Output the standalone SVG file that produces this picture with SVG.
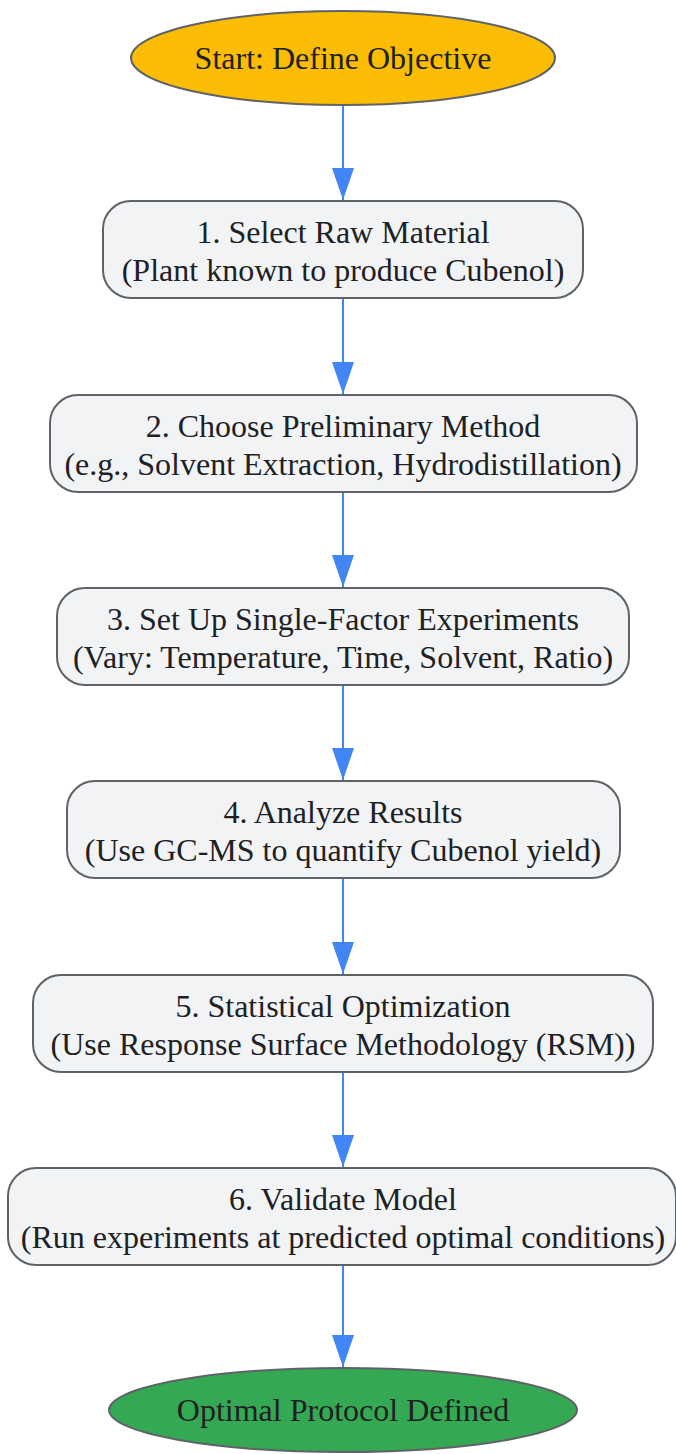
<svg xmlns="http://www.w3.org/2000/svg" width="676" height="1454" viewBox="0 0 676 1454">
<style>
.n{fill:#f1f3f4;stroke:#5f6368;stroke-width:2}
.t{font-family:"Liberation Serif","Times New Roman",serif;font-size:32px;fill:#202124;text-anchor:middle}
.e{stroke:#4285f4;stroke-width:2;fill:none}
</style>
<defs>
<marker id="a" markerWidth="32" markerHeight="22" refX="32" refY="11" orient="auto" markerUnits="userSpaceOnUse" viewBox="0 0 32 22">
<path d="M0,0 L32,11 L0,22 Z" fill="#4285f4"/>
</marker>
</defs>
<rect width="676" height="1454" fill="#ffffff"/>
<g id="edges">
<path class="e" d="M343,105 V200" marker-end="url(#a)"/>
<path class="e" d="M343,299 V394" marker-end="url(#a)"/>
<path class="e" d="M343,493 V587" marker-end="url(#a)"/>
<path class="e" d="M343,686 V780" marker-end="url(#a)"/>
<path class="e" d="M343,879 V974" marker-end="url(#a)"/>
<path class="e" d="M343,1073 V1167" marker-end="url(#a)"/>
<path class="e" d="M343,1266 V1367" marker-end="url(#a)"/>
</g>
<g id="start">
<ellipse cx="343" cy="58" rx="212" ry="47" fill="#fbbc04" stroke="#5f6368" stroke-width="2"/>
<text class="t" x="343" y="69">Start: Define Objective</text>
</g>
<g id="n1">
<rect class="n" x="103" y="201" width="480" height="97" rx="28"/>
<text class="t" x="343" y="243">1. Select Raw Material</text>
<text class="t" x="343" y="281">(Plant known to produce Cubenol)</text>
</g>
<g id="n2">
<rect class="n" x="50" y="395" width="587" height="97" rx="28"/>
<text class="t" x="343" y="437">2. Choose Preliminary Method</text>
<text class="t" x="343" y="475">(e.g., Solvent Extraction, Hydrodistillation)</text>
</g>
<g id="n3">
<rect class="n" x="57" y="588" width="572" height="97" rx="28"/>
<text class="t" x="343" y="630">3. Set Up Single-Factor Experiments</text>
<text class="t" x="343" y="668">(Vary: Temperature, Time, Solvent, Ratio)</text>
</g>
<g id="n4">
<rect class="n" x="67" y="781" width="553" height="97" rx="28"/>
<text class="t" x="343" y="823">4. Analyze Results</text>
<text class="t" x="343" y="861">(Use GC-MS to quantify Cubenol yield)</text>
</g>
<g id="n5">
<rect class="n" x="33" y="975" width="620" height="97" rx="28"/>
<text class="t" x="343" y="1017">5. Statistical Optimization</text>
<text class="t" x="343" y="1055">(Use Response Surface Methodology (RSM))</text>
</g>
<g id="n6">
<rect class="n" x="8" y="1168" width="668" height="97" rx="28"/>
<text class="t" x="343" y="1210">6. Validate Model</text>
<text class="t" x="343" y="1248">(Run experiments at predicted optimal conditions)</text>
</g>
<g id="end">
<ellipse cx="343" cy="1410" rx="234" ry="42" fill="#34a853" stroke="#5f6368" stroke-width="2"/>
<text class="t" x="343" y="1421">Optimal Protocol Defined</text>
</g>
</svg>
